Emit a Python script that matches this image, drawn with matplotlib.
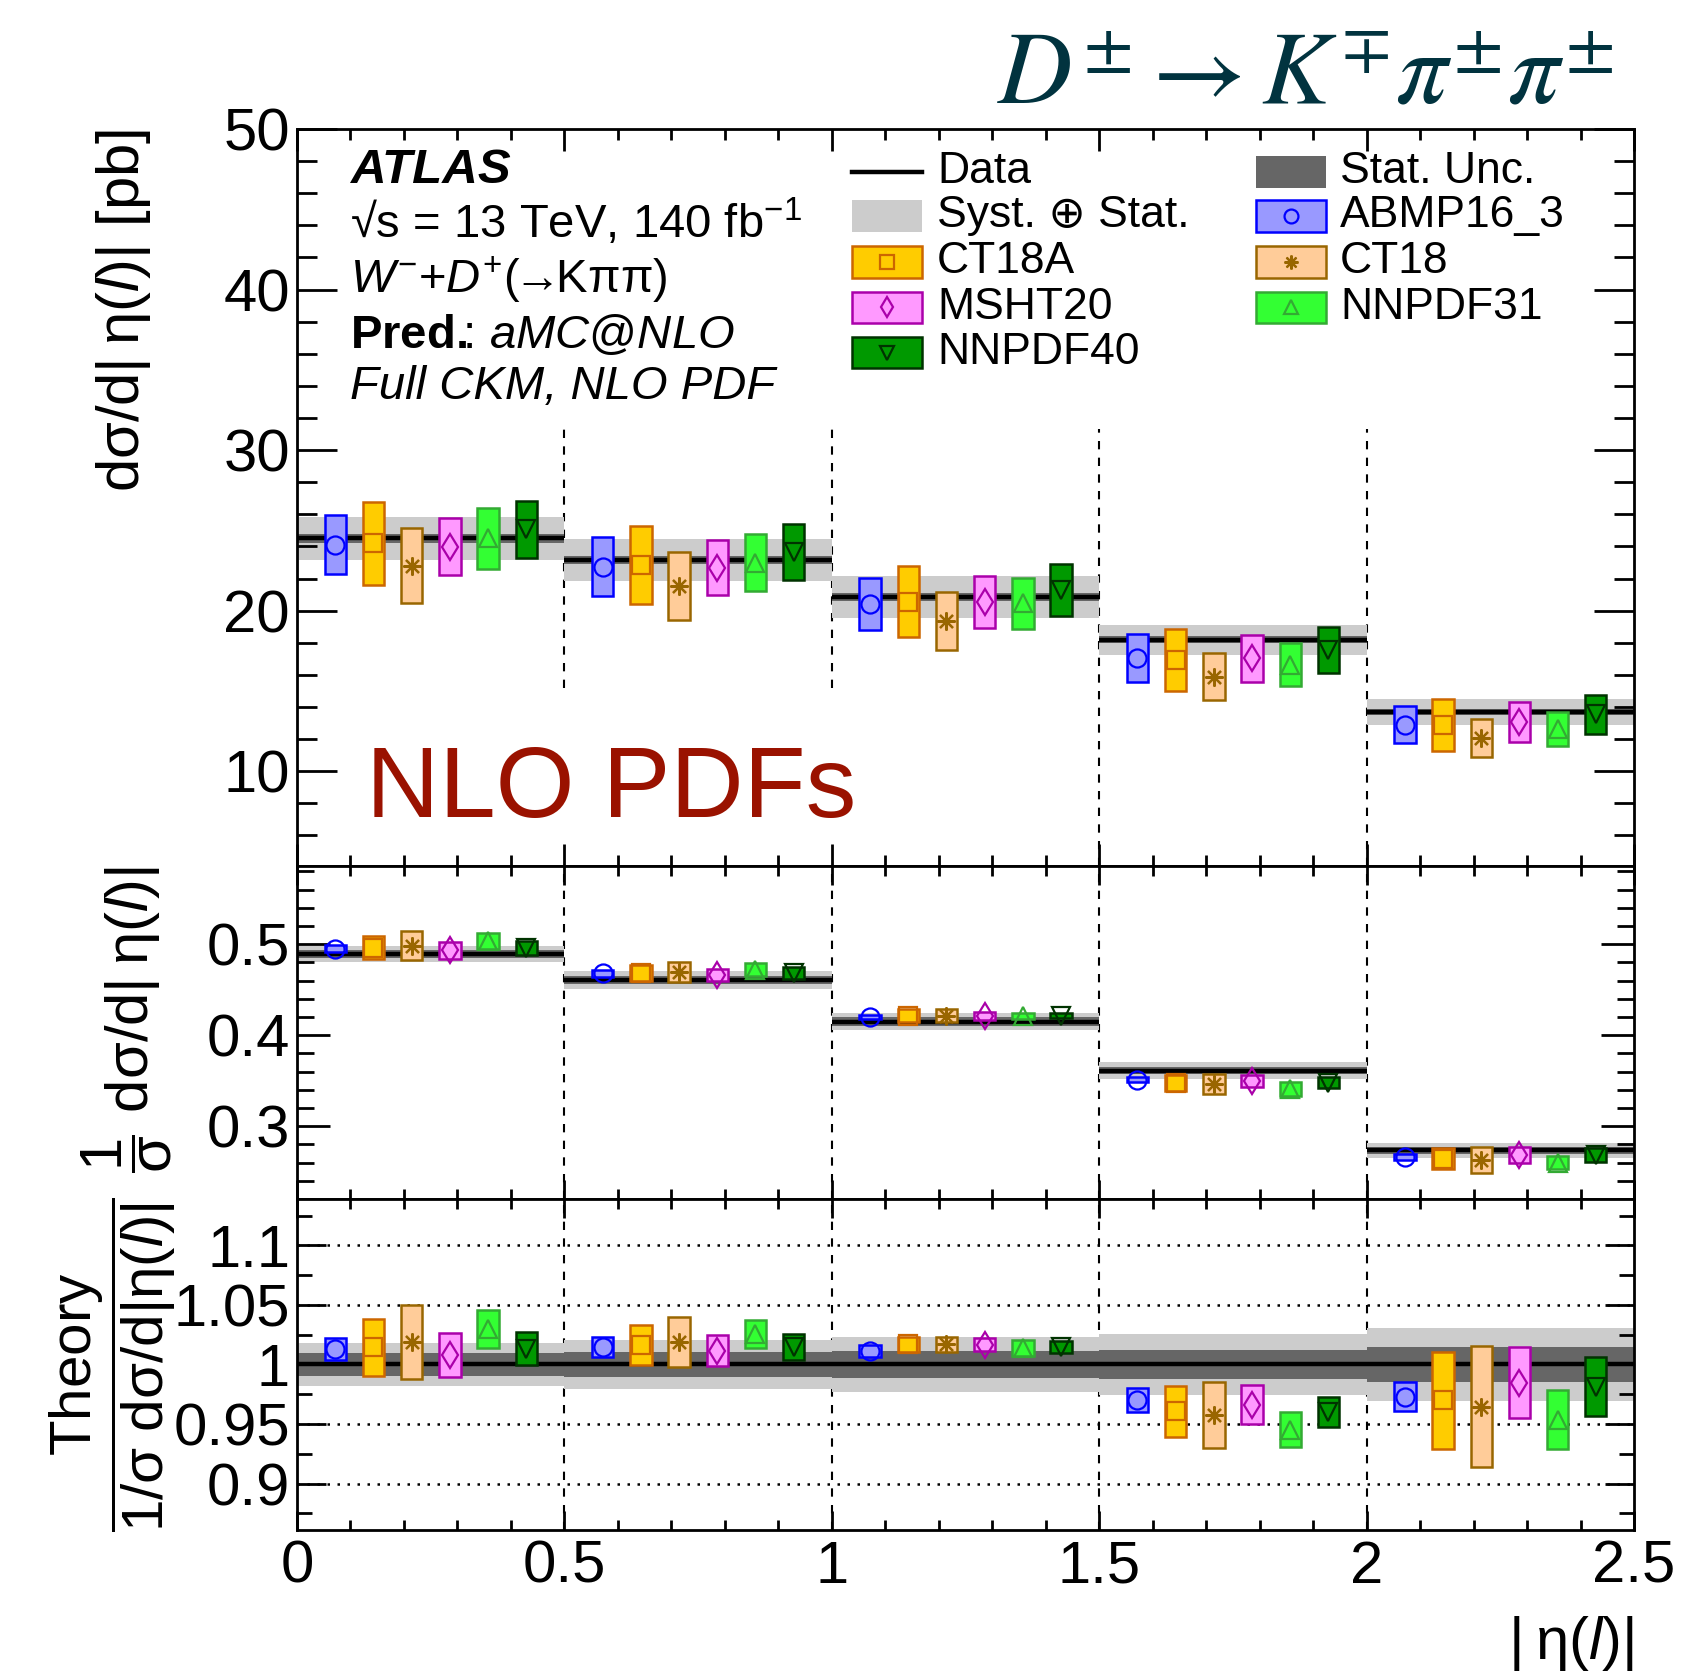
import numpy as np
import matplotlib
matplotlib.use("Agg")
import matplotlib.pyplot as plt
from matplotlib.patches import Rectangle
from matplotlib.lines import Line2D
from matplotlib.ticker import MultipleLocator, FuncFormatter

plt.rcParams["font.family"] = ["Liberation Sans", "DejaVu Sans"]
plt.rcParams["mathtext.fontset"] = "custom"
plt.rcParams["mathtext.rm"] = "Liberation Sans"
plt.rcParams["mathtext.it"] = "Liberation Sans:italic"
plt.rcParams["mathtext.bf"] = "Liberation Sans:bold"
plt.rcParams["axes.linewidth"] = 2.0

# binning in |eta(l)|
bin_lo = np.array([0.0, 0.5, 1.0, 1.5, 2.0])
bin_w = 0.5

# PDF sets (order = position inside each bin)
pdf_names = ["ABMP16_3", "CT18A", "CT18", "MSHT20", "NNPDF31", "NNPDF40"]
pdf_fill = ["#9999ff", "#ffcc00", "#ffcc99", "#ff99ff", "#33ff33", "#009900"]
pdf_edge = ["#0000ff", "#cc6600", "#996600", "#aa00aa", "#33aa33", "#003300"]
pdf_marker = ["o", "s", (8, 2, 0), "d", "^", "v"]

# --- absolute cross section [pb]
data_abs = [24.5, 23.15, 20.85, 18.2, 13.7]
data_abs_stat = [0.28, 0.27, 0.25, 0.22, 0.20]
data_abs_tot = [1.36, 1.30, 1.28, 0.93, 0.83]
pred_abs = [
    [24.11, 22.74, 20.42, 17.08, 12.90],
    [24.19, 22.85, 20.57, 16.93, 12.88],
    [22.80, 21.52, 19.35, 15.89, 12.07],
    [23.99, 22.69, 20.54, 17.03, 13.08],
    [24.50, 23.00, 20.45, 16.63, 12.64],
    [25.08, 23.67, 21.28, 17.58, 13.55],
]
pred_abs_err = [
    [1.84, 1.82, 1.63, 1.49, 1.17],
    [2.56, 2.45, 2.22, 1.94, 1.63],
    [2.35, 2.13, 1.79, 1.47, 1.17],
    [1.76, 1.71, 1.61, 1.47, 1.25],
    [1.91, 1.80, 1.60, 1.33, 1.06],
    [1.77, 1.73, 1.62, 1.43, 1.20],
]

# --- normalised cross section
data_norm = [0.4895, 0.4609, 0.4150, 0.3612, 0.2736]
data_norm_stat = [0.0047, 0.0046, 0.0046, 0.0043, 0.0040]
data_norm_tot = [0.0087, 0.0097, 0.0094, 0.0094, 0.0085]
pred_norm = [
    [0.4952, 0.4680, 0.4200, 0.3511, 0.2659],
    [0.4963, 0.4685, 0.4214, 0.3475, 0.2641],
    [0.4984, 0.4697, 0.4215, 0.3465, 0.2630],
    [0.4933, 0.4663, 0.4210, 0.3498, 0.2687],
    [0.5036, 0.4720, 0.4210, 0.3410, 0.2600],
    [0.4957, 0.4680, 0.4215, 0.3480, 0.2680],
]
pred_norm_err = [
    [0.0040, 0.0035, 0.0025, 0.0030, 0.0035],
    [0.0124, 0.0087, 0.0069, 0.0084, 0.0116],
    [0.0158, 0.0107, 0.0070, 0.0107, 0.0145],
    [0.0093, 0.0070, 0.0040, 0.0068, 0.0089],
    [0.0087, 0.0069, 0.0035, 0.0073, 0.0075],
    [0.0077, 0.0066, 0.0030, 0.0058, 0.0077],
]

# --- theory / data (normalised)
ratio_stat = [0.0096, 0.0102, 0.0115, 0.0120, 0.0146]
ratio_tot = [0.0180, 0.0203, 0.0231, 0.0260, 0.0310]
pred_ratio = [
    [1.0130, 1.0148, 1.0110, 0.9700, 0.9730],
    [1.0146, 1.0166, 1.0169, 0.9606, 0.9698],
    [1.0186, 1.0188, 1.0170, 0.9576, 0.9646],
    [1.0079, 1.0116, 1.0165, 0.9663, 0.9848],
    [1.0298, 1.0255, 1.0140, 0.9452, 0.9536],
    [1.0133, 1.0145, 1.0145, 0.9603, 0.9815],
]
pred_ratio_err = [
    [0.0089, 0.0083, 0.0050, 0.0099, 0.0124],
    [0.0239, 0.0169, 0.0065, 0.0211, 0.0409],
    [0.0312, 0.0211, 0.0065, 0.0276, 0.0509],
    [0.0183, 0.0130, 0.0055, 0.0163, 0.0298],
    [0.0157, 0.0120, 0.0065, 0.0149, 0.0247],
    [0.0139, 0.0111, 0.0052, 0.0126, 0.0250],
]
ratio_grid = [0.9, 0.95, 1.05, 1.1]

# vertical bin separators in the top panel: (x, lower end)
top_sep_x = [0.5, 1.0, 1.5, 2.0]
top_sep_lo = [15.2, 15.2, 4.1, 4.1]
top_sep_hi = 31.3

TICK_FS = 43
LABEL_FS = 43

fig = plt.figure(figsize=(16.86, 16.72), dpi=100)
ax1 = fig.add_axes([0.17616, 0.48206, 0.79300, 0.44079])
ax2 = fig.add_axes([0.17616, 0.28289, 0.79300, 0.19916], sharex=ax1)
ax3 = fig.add_axes([0.17616, 0.08493, 0.79300, 0.19797], sharex=ax1)


def draw_bands(ax, centre, stat, tot):
    centre = np.asarray(centre)
    stat = np.asarray(stat)
    tot = np.asarray(tot)
    ax.bar(bin_lo, 2 * tot, bottom=centre - tot, width=bin_w, align="edge",
           color="#cccccc", lw=0, zorder=1)
    ax.bar(bin_lo, 2 * stat, bottom=centre - stat, width=bin_w, align="edge",
           color="#666666", lw=0, zorder=2)
    ax.hlines(centre, bin_lo, bin_lo + bin_w, color="black", lw=3.2, zorder=3)


def draw_preds(ax, cents, errs, ms):
    for k in range(len(pdf_names)):
        x = bin_lo + (k + 1) * bin_w / 7
        c = np.asarray(cents[k])
        e = np.asarray(errs[k])
        ax.bar(x, 2 * e, bottom=c - e, width=0.04, color=pdf_fill[k],
               edgecolor=pdf_edge[k], lw=1.8, zorder=4)
        ax.plot(x, c, ls="none", marker=pdf_marker[k], ms=ms, mfc="none",
                mec=pdf_edge[k], mew=1.6, zorder=5)


def style_axis(ax, ymaj, ymin, ylen, xlen):
    ax.set_xlim(0, 2.5)
    ax.xaxis.set_major_locator(MultipleLocator(0.5))
    ax.xaxis.set_minor_locator(MultipleLocator(0.1))
    ax.yaxis.set_major_locator(MultipleLocator(ymaj))
    ax.yaxis.set_minor_locator(MultipleLocator(ymin))
    ax.tick_params(which="both", direction="in", top=True, right=True,
                   width=2.0, labelsize=TICK_FS)
    ax.tick_params(axis="y", which="major", length=ylen, pad=5)
    ax.tick_params(axis="y", which="minor", length=ylen / 2)
    ax.tick_params(axis="x", which="major", length=xlen, pad=7)
    ax.tick_params(axis="x", which="minor", length=xlen / 2)
    ax.yaxis.set_major_formatter(FuncFormatter(lambda v, p: f"{v:g}"))
    ax.xaxis.set_major_formatter(FuncFormatter(lambda v, p: f"{v:g}"))


# ---------------- top panel
draw_bands(ax1, data_abs, data_abs_stat, data_abs_tot)
draw_preds(ax1, pred_abs, pred_abs_err, 13)
ax1.vlines(top_sep_x, top_sep_lo, top_sep_hi, colors="black", lw=1.5,
           linestyles=(0, (4, 4)), zorder=0.5)
ax1.set_ylim(4.1, 50)
style_axis(ax1, 10, 2, 29, 16)
ax1.tick_params(axis="x", labelbottom=False)
ax1.set_ylabel("dσ/d|\u2009η($l$)| [pb]", fontsize=LABEL_FS, loc="top")
ax1.yaxis.set_label_coords(-0.108, 1.0)

tx = 0.0396
ax1.text(tx, 0.9264, "ATLAS", transform=ax1.transAxes, fontsize=35.5,
         fontweight="bold", style="italic", va="baseline")
ax1.text(tx, 0.8517, "√s = 13 TeV, 140 fb$^{-1}$", transform=ax1.transAxes,
         fontsize=34, va="baseline")
ax1.text(tx, 0.777, r"$W^{-}$+$D^{+}$($\!\!\rightarrow\!\!$Kππ)",
         transform=ax1.transAxes, fontsize=34, va="baseline")
ax1.text(tx, 0.7024, r"$\mathbf{Pred.}\!\!$: $\mathit{aMC@NLO}$",
         transform=ax1.transAxes, fontsize=34, va="baseline")
ax1.text(tx, 0.6333, "Full CKM, NLO PDF", transform=ax1.transAxes,
         fontsize=34, style="italic", va="baseline")
ax1.text(0.0516, 0.0662, "NLO PDFs", transform=ax1.transAxes, fontsize=73,
         color="#9a1200", va="baseline")

# legend drawn by hand, ROOT style
leg_fs = 32
box_w, box_h = 0.052, 0.043
col_box = [0.4154, 0.7176]
col_txt = [0.4787, 0.7801]
rows = [0.942, 0.8823, 0.820, 0.7578, 0.6967]
left_items = [("Data", None), ("Syst. ⊕ Stat.", None), ("CT18A", 1),
              ("MSHT20", 3), ("NNPDF40", 5)]
right_items = [("Stat. Unc.", None), ("ABMP16_3", 0), ("CT18", 2),
               ("NNPDF31", 4)]
for col, items in enumerate([left_items, right_items]):
    for r, (label, k) in enumerate(items):
        y = rows[r]
        x0 = col_box[col]
        if label == "Data":
            ax1.add_line(Line2D([x0, x0 + box_w], [y, y], color="black",
                                lw=3.2, transform=ax1.transAxes))
        elif k is None:
            c = "#cccccc" if label.startswith("Syst") else "#666666"
            ax1.add_patch(Rectangle((x0, y - box_h / 2), box_w, box_h,
                                    transform=ax1.transAxes, color=c, lw=0))
        else:
            ax1.add_patch(Rectangle((x0, y - box_h / 2), box_w, box_h,
                                    transform=ax1.transAxes, fc=pdf_fill[k],
                                    ec=pdf_edge[k], lw=1.8))
            ax1.plot([x0 + box_w / 2], [y], transform=ax1.transAxes,
                     marker=pdf_marker[k], ms=10, mfc="none",
                     mec=pdf_edge[k], mew=1.6)
        ax1.text(col_txt[col], y, label, transform=ax1.transAxes,
                 fontsize=leg_fs, va="center")

# ---------------- middle panel
draw_bands(ax2, data_norm, data_norm_stat, data_norm_tot)
draw_preds(ax2, pred_norm, pred_norm_err, 13)
for x in top_sep_x:
    ax2.axvline(x, color="black", lw=1.5, ls=(0, (4, 4)), zorder=0.5)
ax2.set_ylim(0.22, 0.586)
style_axis(ax2, 0.1, 0.02, 24, 14)
ax2.tick_params(axis="x", labelbottom=False)
ax2.set_ylabel(r"$\dfrac{1}{\mathrm{\sigma}}$ dσ/d|" "\u2009" r"η($l$)|",
               fontsize=LABEL_FS, loc="top")
ax2.yaxis.set_label_coords(-0.092, 1.0)

# ---------------- ratio panel
draw_bands(ax3, np.ones(5), ratio_stat, ratio_tot)
draw_preds(ax3, pred_ratio, pred_ratio_err, 13)
for x in top_sep_x:
    ax3.axvline(x, color="black", lw=1.5, ls=(0, (4, 4)), zorder=0.5)
for g in ratio_grid:
    ax3.axhline(g, color="black", lw=1.8, ls=(0, (1, 3)), zorder=0.6)
ax3.set_ylim(0.861, 1.139)
style_axis(ax3, 0.05, 0.025, 21, 14)
ax3.set_ylabel(r"$\dfrac{\mathrm{Theory}}{\mathrm{1/\sigma\ d\sigma/d|\eta(}"
               r"\mathit{l}\mathrm{)|}}$", fontsize=42)
ax3.yaxis.set_label_coords(-0.089, 0.5)
ax3.set_xlabel("|\u2009η($l$)|", fontsize=LABEL_FS, loc="right", labelpad=14)

fig.text(0.957, 0.9378, r"$D^{\pm} \rightarrow K^{\mp}\pi^{\pm}\pi^{\pm}$",
         math_fontfamily="stix", fontsize=74, color="#01333f",
         ha="right", va="baseline")

fig.savefig("out.png", dpi=100)
